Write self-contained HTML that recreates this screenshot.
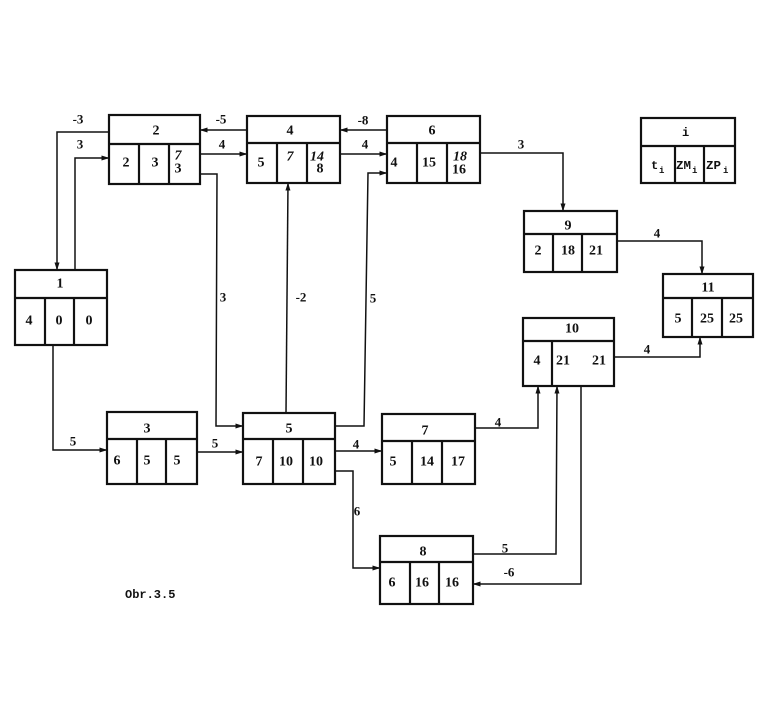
<!DOCTYPE html>
<html><head><meta charset="utf-8">
<style>
html,body{margin:0;padding:0;background:#fff;}
svg{display:block;}
.t{font-family:"Liberation Serif",serif;font-weight:bold;font-size:14px;fill:#111;text-anchor:middle;dominant-baseline:central;}
.l{font-family:"Liberation Serif",serif;font-weight:bold;font-size:13px;fill:#111;text-anchor:middle;dominant-baseline:central;}
.m{font-family:"Liberation Mono",monospace;font-weight:bold;font-size:12px;fill:#111;}
.ms{font-family:"Liberation Mono",monospace;font-weight:bold;font-size:9px;fill:#111;}
.box{fill:none;stroke:#111;stroke-width:2.2;}
.ln{fill:none;stroke:#111;stroke-width:1.5;}
</style></head><body>
<svg width="772" height="716" viewBox="0 0 772 716" xmlns="http://www.w3.org/2000/svg">
<defs>
<marker id="a" markerWidth="8" markerHeight="6" refX="7.5" refY="3" orient="auto" markerUnits="userSpaceOnUse">
<path d="M0,0.5 L8,3 L0,5.5 Z" fill="#111"/>
</marker>
</defs>
<rect width="772" height="716" fill="#fff"/>

<!-- connectors -->
<polyline class="ln" points="109,132 57,132 57,270" marker-end="url(#a)"/>
<polyline class="ln" points="75,270 75,158 109,158" marker-end="url(#a)"/>
<polyline class="ln" points="247,130 200,130" marker-end="url(#a)"/>
<polyline class="ln" points="200,154 247,154" marker-end="url(#a)"/>
<polyline class="ln" points="387,130 340,130" marker-end="url(#a)"/>
<polyline class="ln" points="340,154 387,154" marker-end="url(#a)"/>
<polyline class="ln" points="480,153 563,153 563,211" marker-end="url(#a)"/>
<polyline class="ln" points="200,174 217,174 216,426 243,426" marker-end="url(#a)"/>
<polyline class="ln" points="286,413 288,183" marker-end="url(#a)"/>
<polyline class="ln" points="335,426 364,426 368,173 387,173" marker-end="url(#a)"/>
<polyline class="ln" points="617,241 702,241 702,274" marker-end="url(#a)"/>
<polyline class="ln" points="614,357 700,357 700,337" marker-end="url(#a)"/>
<polyline class="ln" points="53,345 53,450 107,450" marker-end="url(#a)"/>
<polyline class="ln" points="197,452 243,452" marker-end="url(#a)"/>
<polyline class="ln" points="335,451 382,451" marker-end="url(#a)"/>
<polyline class="ln" points="475,428 538,428 538,386" marker-end="url(#a)"/>
<polyline class="ln" points="335,471 353,471 353,568 380,568" marker-end="url(#a)"/>
<polyline class="ln" points="473,554 556,554 557,386" marker-end="url(#a)"/>
<polyline class="ln" points="581,386 581,584 473,584" marker-end="url(#a)"/>

<!-- connector labels -->
<text class="l" x="78" y="119">-3</text>
<text class="l" x="80" y="144">3</text>
<text class="l" x="221" y="119">-5</text>
<text class="l" x="222" y="144">4</text>
<text class="l" x="363" y="120">-8</text>
<text class="l" x="365" y="144">4</text>
<text class="l" x="521" y="144">3</text>
<text class="l" x="223" y="297">3</text>
<text class="l" x="301" y="297">-2</text>
<text class="l" x="373" y="298">5</text>
<text class="l" x="657" y="233">4</text>
<text class="l" x="647" y="349">4</text>
<text class="l" x="73" y="441">5</text>
<text class="l" x="215" y="443">5</text>
<text class="l" x="356" y="444">4</text>
<text class="l" x="498" y="422">4</text>
<text class="l" x="357" y="511">6</text>
<text class="l" x="505" y="548">5</text>
<text class="l" x="509" y="572">-6</text>

<!-- Node 1 -->
<rect class="box" x="15" y="270" width="92" height="75"/>
<line class="box" x1="15" y1="298" x2="107" y2="298"/>
<line class="box" x1="45" y1="298" x2="45" y2="345"/>
<line class="box" x1="74" y1="298" x2="74" y2="345"/>
<text class="t" x="60" y="284">1</text>
<text class="t" x="29" y="321">4</text>
<text class="t" x="59" y="321">0</text>
<text class="t" x="89" y="321">0</text>

<!-- Node 2 -->
<rect class="box" x="109" y="115" width="91" height="69"/>
<line class="box" x1="109" y1="144" x2="200" y2="144"/>
<line class="box" x1="139" y1="144" x2="139" y2="184"/>
<line class="box" x1="169" y1="144" x2="169" y2="184"/>
<text class="t" x="156" y="131">2</text>
<text class="t" x="126" y="163">2</text>
<text class="t" x="155" y="163">3</text>
<text class="t" x="178" y="156" font-style="italic">7</text>
<text class="t" x="178" y="169">3</text>

<!-- Node 4 -->
<rect class="box" x="247" y="116" width="93" height="67"/>
<line class="box" x1="247" y1="143" x2="340" y2="143"/>
<line class="box" x1="277" y1="143" x2="277" y2="183"/>
<line class="box" x1="307" y1="143" x2="307" y2="183"/>
<text class="t" x="290" y="131">4</text>
<text class="t" x="261" y="163">5</text>
<text class="t" x="290" y="157" font-style="italic">7</text>
<text class="t" x="317" y="157" font-style="italic">14</text>
<text class="t" x="320" y="169">8</text>

<!-- Node 6 -->
<rect class="box" x="387" y="116" width="93" height="67"/>
<line class="box" x1="387" y1="143" x2="480" y2="143"/>
<line class="box" x1="417" y1="143" x2="417" y2="183"/>
<line class="box" x1="447" y1="143" x2="447" y2="183"/>
<text class="t" x="432" y="131">6</text>
<text class="t" x="394" y="163">4</text>
<text class="t" x="429" y="163">15</text>
<text class="t" x="460" y="157" font-style="italic">18</text>
<text class="t" x="459" y="170">16</text>

<!-- Node i (legend) -->
<rect class="box" x="641" y="118" width="94" height="65"/>
<line class="box" x1="641" y1="146" x2="735" y2="146"/>
<line class="box" x1="675" y1="146" x2="675" y2="183"/>
<line class="box" x1="704" y1="146" x2="704" y2="183"/>
<text class="m" x="682" y="136">i</text>
<text class="m" x="651" y="169">t</text><text class="ms" x="659" y="173">i</text>
<text class="m" x="676" y="169" textLength="15" lengthAdjust="spacingAndGlyphs">ZM</text><text class="ms" x="692" y="173">i</text>
<text class="m" x="706" y="169" textLength="15" lengthAdjust="spacingAndGlyphs">ZP</text><text class="ms" x="723" y="173">i</text>

<!-- Node 9 -->
<rect class="box" x="524" y="211" width="93" height="61"/>
<line class="box" x1="524" y1="234" x2="617" y2="234"/>
<line class="box" x1="553" y1="234" x2="553" y2="272"/>
<line class="box" x1="582" y1="234" x2="582" y2="272"/>
<text class="t" x="568" y="226">9</text>
<text class="t" x="538" y="251">2</text>
<text class="t" x="568" y="251">18</text>
<text class="t" x="596" y="251">21</text>

<!-- Node 11 -->
<rect class="box" x="663" y="274" width="90" height="63"/>
<line class="box" x1="663" y1="298" x2="753" y2="298"/>
<line class="box" x1="692" y1="298" x2="692" y2="337"/>
<line class="box" x1="722" y1="298" x2="722" y2="337"/>
<text class="t" x="708" y="288">11</text>
<text class="t" x="678" y="319">5</text>
<text class="t" x="707" y="319">25</text>
<text class="t" x="736" y="319">25</text>

<!-- Node 10 -->
<rect class="box" x="523" y="318" width="91" height="68"/>
<line class="box" x1="523" y1="341" x2="614" y2="341"/>
<line class="box" x1="552" y1="341" x2="552" y2="386"/>
<text class="t" x="572" y="329">10</text>
<text class="t" x="537" y="361">4</text>
<text class="t" x="563" y="361">21</text>
<text class="t" x="599" y="361">21</text>

<!-- Node 3 -->
<rect class="box" x="107" y="412" width="90" height="72"/>
<line class="box" x1="107" y1="439" x2="197" y2="439"/>
<line class="box" x1="137" y1="439" x2="137" y2="484"/>
<line class="box" x1="166" y1="439" x2="166" y2="484"/>
<text class="t" x="147" y="429">3</text>
<text class="t" x="117" y="461">6</text>
<text class="t" x="147" y="461">5</text>
<text class="t" x="177" y="461">5</text>

<!-- Node 5 -->
<rect class="box" x="243" y="413" width="92" height="71"/>
<line class="box" x1="243" y1="439" x2="335" y2="439"/>
<line class="box" x1="273" y1="439" x2="273" y2="484"/>
<line class="box" x1="303" y1="439" x2="303" y2="484"/>
<text class="t" x="289" y="429">5</text>
<text class="t" x="259" y="462">7</text>
<text class="t" x="286" y="462">10</text>
<text class="t" x="316" y="462">10</text>

<!-- Node 7 -->
<rect class="box" x="382" y="414" width="93" height="70"/>
<line class="box" x1="382" y1="441" x2="475" y2="441"/>
<line class="box" x1="412" y1="441" x2="412" y2="484"/>
<line class="box" x1="442" y1="441" x2="442" y2="484"/>
<text class="t" x="425" y="431">7</text>
<text class="t" x="393" y="462">5</text>
<text class="t" x="427" y="462">14</text>
<text class="t" x="458" y="462">17</text>

<!-- Node 8 -->
<rect class="box" x="380" y="536" width="93" height="68"/>
<line class="box" x1="380" y1="562" x2="473" y2="562"/>
<line class="box" x1="410" y1="562" x2="410" y2="604"/>
<line class="box" x1="439" y1="562" x2="439" y2="604"/>
<text class="t" x="423" y="552">8</text>
<text class="t" x="392" y="583">6</text>
<text class="t" x="422" y="583">16</text>
<text class="t" x="452" y="583">16</text>

<!-- caption -->
<text class="m" x="125" y="598" font-size="11">Obr.3.5</text>
</svg>
</body></html>
